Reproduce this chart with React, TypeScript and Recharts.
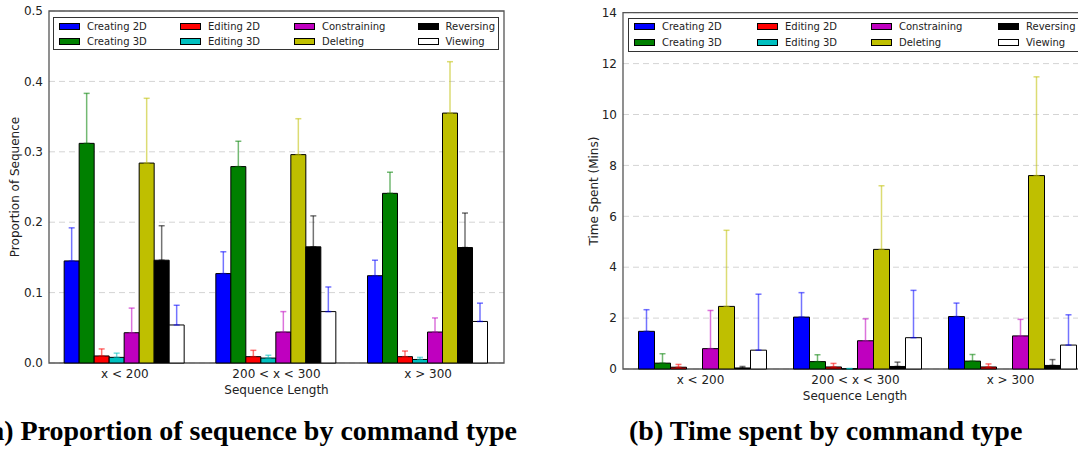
import React from "react";
import { BarChart, Bar, XAxis, YAxis, CartesianGrid, ErrorBar, ReferenceArea } from "recharts";

const categories = ["x < 200", "200 < x < 300", "x > 300"];
const commandTypes = [
  "Creating 2D",
  "Creating 3D",
  "Editing 2D",
  "Editing 3D",
  "Constraining",
  "Deleting",
  "Reversing",
  "Viewing",
];
const barColors = ["#0000ff", "#008000", "#ff0000", "#00bfbf", "#bf00bf", "#bfbf00", "#000000", "#ffffff"];
// the white Viewing bars have blue error bars in the original
const errorColors = ["#0000ff", "#008000", "#ff0000", "#00bfbf", "#bf00bf", "#bfbf00", "#000000", "#0000ff"];

// one row per command type, one value per sequence length category
const propMeans = [
  [0.145, 0.127, 0.124],
  [0.312, 0.279, 0.241],
  [0.01, 0.009, 0.009],
  [0.008, 0.007, 0.005],
  [0.043, 0.044, 0.044],
  [0.284, 0.296, 0.355],
  [0.146, 0.165, 0.164],
  [0.054, 0.073, 0.059],
];
const propErrors = [
  [0.047, 0.031, 0.022],
  [0.071, 0.036, 0.03],
  [0.01, 0.009, 0.008],
  [0.006, 0.004, 0.003],
  [0.035, 0.029, 0.02],
  [0.092, 0.051, 0.073],
  [0.049, 0.044, 0.049],
  [0.028, 0.035, 0.026],
];
const timeMeans = [
  [1.48, 2.04, 2.06],
  [0.23, 0.29, 0.31],
  [0.07, 0.08, 0.08],
  [0, 0.01, 0],
  [0.8, 1.11, 1.3],
  [2.46, 4.7, 7.6],
  [0.04, 0.1, 0.14],
  [0.74, 1.23, 0.94],
];
const timeErrors = [
  [0.85, 0.96, 0.53],
  [0.37, 0.27, 0.26],
  [0.11, 0.14, 0.12],
  [0, 0.01, 0],
  [1.5, 0.86, 0.65],
  [2.99, 2.5, 3.88],
  [0.06, 0.17, 0.23],
  [2.2, 1.86, 1.19],
];
const propTicks = [0, 0.1, 0.2, 0.3, 0.4, 0.5];
const timeTicks = [0, 2, 4, 6, 8, 10, 12, 14];

const FONT = "'DejaVu Sans', sans-serif";

const buildRows = (means: number[][], errors: number[][]) =>
  categories.map((name, c) => {
    const row: Record<string, unknown> = { name };
    commandTypes.forEach((_, s) => {
      row[`v${s}`] = means[s][c];
      // only the upper half of each error bar is drawn
      if (errors[s][c] > 0) row[`e${s}`] = [0, errors[s][c]];
    });
    return row;
  });

const propRows = buildRows(propMeans, propErrors);
const timeRows = buildRows(timeMeans, timeErrors);

const tickStyle = { fontSize: 12, fontFamily: FONT, fill: "#222" };

function Panel({ rows, ticks, fmt, width, margin, yWidth, xHeight }: any) {
  const max = ticks[ticks.length - 1];
  return (
    <BarChart width={width} height={449} data={rows} margin={margin} barCategoryGap="10%" barGap={0}>
      <CartesianGrid vertical={false} stroke="#d4d4d4" strokeDasharray="6 4" />
      <XAxis
        dataKey="name"
        height={xHeight}
        axisLine={false}
        tickLine={false}
        tickSize={4}
        tickMargin={2}
        tick={tickStyle}
      />
      <YAxis
        type="number"
        domain={[0, max]}
        ticks={ticks}
        width={yWidth}
        axisLine={false}
        tickLine={false}
        tickSize={3}
        tickMargin={3}
        tickFormatter={fmt}
        tick={tickStyle}
      />
      {commandTypes.map((name, s) => (
        <Bar
          key={name}
          dataKey={`v${s}`}
          name={name}
          fill={barColors[s]}
          stroke="#000"
          strokeWidth={1}
          isAnimationActive={false}
        >
          <ErrorBar
            dataKey={`e${s}`}
            direction="y"
            width={3}
            stroke={errorColors[s]}
            strokeOpacity={0.55}
            strokeWidth={1.5}
          />
        </Bar>
      ))}
      <ReferenceArea y1={0} y2={max} fill="none" stroke="#555" strokeWidth={1.3} ifOverflow="visible" />
    </BarChart>
  );
}

function LegendBox({ left, top, width, height, cols, rows }: any) {
  return (
    <div
      style={{
        position: "absolute",
        left,
        top,
        width,
        height,
        boxSizing: "border-box",
        border: "1.5px solid #333",
        background: "#fff",
        fontFamily: FONT,
        fontSize: 10,
        color: "#222",
      }}
    >
      {commandTypes.map((name, i) => (
        <div
          key={name}
          style={{
            position: "absolute",
            left: cols[Math.floor(i / 2)],
            top: rows[i % 2] - 6,
            height: 12,
            display: "flex",
            alignItems: "center",
            whiteSpace: "nowrap",
          }}
        >
          <span
            style={{
              display: "inline-block",
              width: 21,
              height: 7,
              boxSizing: "border-box",
              border: "1px solid #000",
              background: barColors[i],
              marginRight: 7,
            }}
          />
          {name}
        </div>
      ))}
    </div>
  );
}

export default function App() {
  return (
    <div
      style={{
        position: "absolute",
        left: 0,
        top: 0,
        width: 1078,
        height: 449,
        overflow: "hidden",
        background: "#fff",
      }}
    >
      <div style={{ position: "absolute", left: 0, top: 0 }}>
        <Panel
          rows={propRows}
          ticks={propTicks}
          fmt={(v: number) => v.toFixed(1)}
          width={540}
          margin={{ top: 11, right: 36, bottom: 0, left: 0 }}
          yWidth={49}
          xHeight={86}
        />
      </div>
      <div style={{ position: "absolute", left: 540, top: 0 }}>
        <Panel
          rows={timeRows}
          ticks={timeTicks}
          fmt={(v: number) => String(v)}
          width={560}
          margin={{ top: 12.7, right: 12, bottom: 0, left: 0 }}
          yWidth={83}
          xHeight={80}
        />
      </div>
      <LegendBox left={53} top={17} width={446} height={33} cols={[5, 126, 240, 363.5]} rows={[8, 23.3]} />
      <LegendBox left={628} top={17.5} width={460} height={34} cols={[5, 128, 242, 369]} rows={[8.2, 24.2]} />
      <svg
        width={1078}
        height={449}
        style={{ position: "absolute", left: 0, top: 0, pointerEvents: "none" }}
      >
        <g fontFamily={FONT} fontSize={12} fill="#222" textAnchor="middle" dominantBaseline="central">
          <text transform="translate(15,187) rotate(-90)">Proportion of Sequence</text>
          <text transform="translate(594,191) rotate(-90)">Time Spent (Mins)</text>
          <text x={276.5} y={390}>Sequence Length</text>
          <text x={855} y={396}>Sequence Length</text>
        </g>
        <g fontFamily="'Liberation Serif', 'Times New Roman', serif" fontWeight="bold" fontSize={28} fill="#000">
          <text x={517} y={440} textAnchor="end">(a) Proportion of sequence by command type</text>
          <text x={629} y={440}>(b) Time spent by command type</text>
        </g>
      </svg>
    </div>
  );
}
